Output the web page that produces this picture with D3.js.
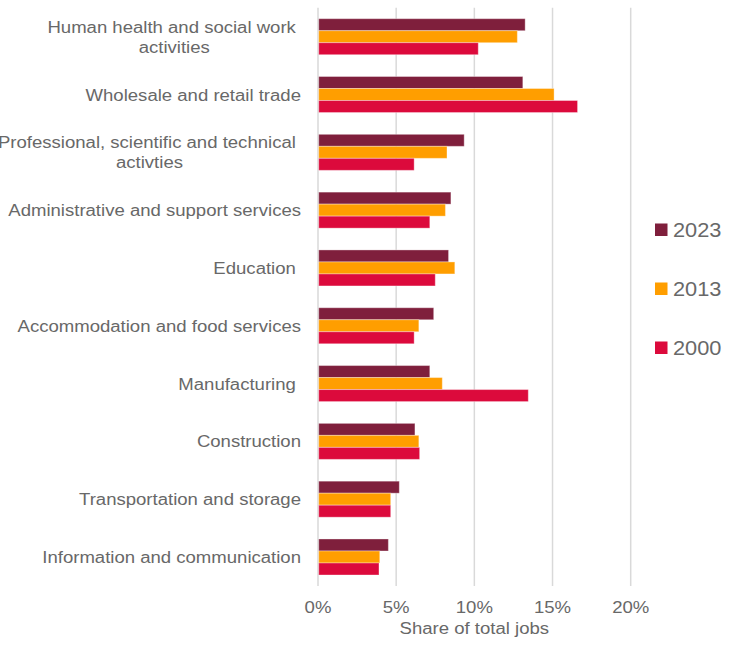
<!DOCTYPE html>
<html>
<head>
<meta charset="utf-8">
<script src="https://cdn.jsdelivr.net/npm/d3@7/dist/d3.min.js"></script>
<style>
  html, body { margin: 0; padding: 0; background: #fff; }
  svg text { font-family: "Liberation Sans", Arial, sans-serif; fill: #686868; white-space: pre; }
</style>
</head>
<body>
<svg id="chart" width="731" height="645"></svg>
<script>
// Industry categories, top to bottom (labels may wrap onto a second line)
const categories = [
  ["Human health and social work ", "activities"],
  ["Wholesale and retail trade"],
  ["Professional, scientific and technical ", "activties"],
  ["Administrative and support services"],
  ["Education "],
  ["Accommodation and food services"],
  ["Manufacturing "],
  ["Construction"],
  ["Transportation and storage"],
  ["Information and communication"]
];

const years = ["2023", "2013", "2000"];

// Share of total jobs (%) per category, in category order
const share2023 = [13.25, 13.1, 9.35, 8.5, 8.35, 7.4, 7.15, 6.2, 5.2, 4.5];
const share2013 = [12.75, 15.1, 8.25, 8.15, 8.75, 6.45, 7.95, 6.45, 4.65, 3.95];
const share2000 = [10.25, 16.6, 6.15, 7.15, 7.5, 6.15, 13.45, 6.5, 4.65, 3.9];

const xTicks = [0, 5, 10, 15, 20];
const tickLabels = ["0%", "5%", "10%", "15%", "20%"];

const colors = { "2023": "#7f1f3c", "2013": "#ff9e00", "2000": "#dc0a3c" };
const seriesByYear = { "2023": share2023, "2013": share2013, "2000": share2000 };

// text is drawn slightly widened horizontally
const textStretch = 1.16;
const legendStretch = 1.09;

const svg = d3.select("#chart");

// places a text whose anchor point sits at (px, py), widened by sx
function addText(parent, px, py, str, size, anchor, sx) {
  const g = parent.append("g").attr("transform", `translate(${px},${py}) scale(${sx},1)`);
  return g.append("text").attr("x", 0).attr("y", 0)
    .attr("font-size", size).attr("text-anchor", anchor).text(str);
}

const x = d3.scaleLinear().domain([0, 20]).range([318, 630.7]);
const catIdx = d3.range(categories.length);
const y = d3.scaleBand().domain(catIdx).range([7.8, 585.9])
  .paddingInner(0.377).paddingOuter(0.1885);
const ySub = d3.scaleBand().domain(years).range([0, y.bandwidth()]);

// vertical gridlines
svg.append("g").selectAll("line").data(xTicks).join("line")
  .attr("x1", d => x(d)).attr("x2", d => x(d))
  .attr("y1", 7.8).attr("y2", 586)
  .attr("stroke", "#d9d9d9").attr("stroke-width", 1.5);

// bars
const groups = svg.append("g").selectAll("g").data(catIdx).join("g")
  .attr("transform", i => `translate(0,${y(i)})`);

groups.selectAll("rect")
  .data(i => years.map(yr => ({ yr, v: seriesByYear[yr][i] })))
  .join("rect")
  .attr("x", x(0) + 0.7)
  .attr("y", d => ySub(d.yr))
  .attr("width", d => x(d.v) - x(0) - 0.7)
  .attr("height", ySub.bandwidth())
  .attr("fill", d => colors[d.yr])
  .attr("stroke", "rgba(255,255,255,0.35)")
  .attr("stroke-width", 1);

// category labels, right aligned with wrapped lines centred under the first
const labelRight = 301;
const labelG = svg.append("g");
catIdx.forEach(i => {
  const lines = categories[i];
  const cy = y(i) + y.bandwidth() / 2;
  if (lines.length === 1) {
    addText(labelG, labelRight, cy + 6, lines[0], 16, "end", textStretch);
  } else {
    const first = addText(labelG, labelRight, cy - 4, lines[0], 16, "end", textStretch);
    const w = first.node().getComputedTextLength() * textStretch;
    addText(labelG, labelRight - w / 2, cy + 16, lines[1], 16, "middle", textStretch);
  }
});

// x-axis tick labels
const tickG = svg.append("g");
xTicks.forEach((d, i) => addText(tickG, x(d), 613.3, tickLabels[i], 16, "middle", textStretch));

// axis title
addText(svg, (x(0) + x(20)) / 2, 633.5, "Share of total jobs", 16, "middle", textStretch);

// legend
const legend = svg.append("g").selectAll("g").data(years).join("g")
  .attr("transform", (d, i) => `translate(655,${223.5 + i * 59})`);
legend.append("rect").attr("width", 12.5).attr("height", 12.5)
  .attr("fill", d => colors[d]);
legend.each(function (d) {
  addText(d3.select(this), 18, 13.3, d, 20, "start", legendStretch);
});
</script>
</body>
</html>
